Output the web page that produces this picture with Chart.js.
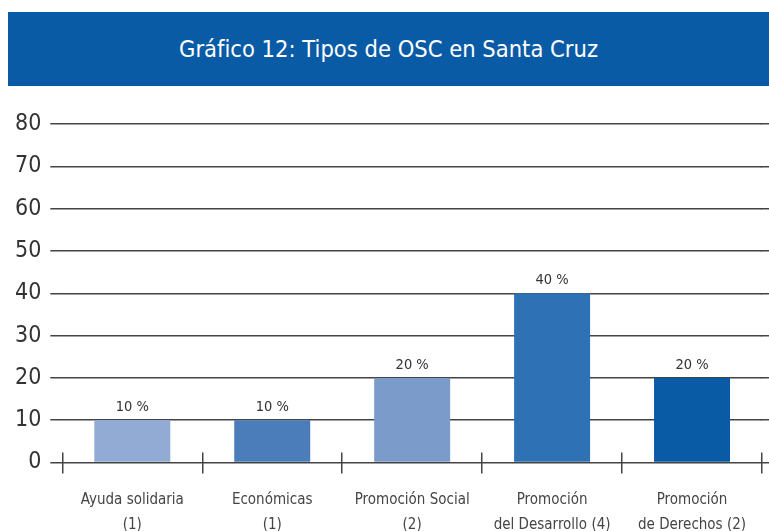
<!DOCTYPE html>
<html lang="es">
<head>
  <meta charset="UTF-8" />
  <title>Tipos de OSC en Santa Cruz</title>
  <script src="https://cdn.jsdelivr.net/npm/chart.js"></script>
  <style>
    html, body { margin: 0; padding: 0; background: #fff; overflow: hidden; }
    #wrap { position: relative; width: 769px; height: 554px; }
    #banner {
      position: absolute; left: 8px; top: 12px; width: 761px; height: 74px;
      background: #0a5ba6; color: #fff;
      font-family: 'Liberation Sans Narrow', 'DejaVu Sans Condensed', sans-serif;
      font-size: 23.5px; line-height: 74px; text-align: center;
    }
    #chart { position: absolute; left: 0; top: 0; }
  </style>
</head>
<body>
  <div id="wrap">
    <canvas id="chart" width="769" height="554"></canvas>
    <div id="banner">Gráfico 12: Tipos de OSC en Santa Cruz</div>
  </div>

  <script>
    const categories = [
      ['Ayuda solidaria', '(1)'],
      ['Económicas', '(1)'],
      ['Promoción Social', '(2)'],
      ['Promoción', 'del Desarrollo (4)'],
      ['Promoción', 'de Derechos (2)']
    ];
    const values = [10, 10, 20, 40, 20];
    const valueLabels = ['10 %', '10 %', '20 %', '40 %', '20 %'];
    const yTicks = [0, 10, 20, 30, 40, 50, 60, 70, 80];
    const barColors = ['#92abd5', '#4a7dba', '#7b9bcb', '#2e71b5', '#0a5ba5'];

    const font = "'Liberation Sans Narrow', 'DejaVu Sans Condensed', sans-serif";
    const lw = 1.5;
    // same pixel snapping Chart.js uses for grid lines
    const snap = p => Math.round(p - lw / 2) + lw / 2;

    // value labels above bars, ticks crossing the axis, grid lines to the right edge
    const extras = {
      id: 'extras',
      afterDraw(chart) {
        const ctx = chart.ctx;
        const area = chart.chartArea;
        const y = chart.scales.y;
        ctx.save();
        ctx.strokeStyle = '#444';
        ctx.lineWidth = lw;
        yTicks.forEach(v => {
          const py = snap(y.getPixelForValue(v));
          ctx.beginPath();
          ctx.moveTo(area.right - 1, py);
          ctx.lineTo(chart.width, py);
          ctx.stroke();
        });
        const n = categories.length;
        for (let i = 0; i <= n; i++) {
          const px = snap(area.left + i * (area.right - area.left) / n);
          ctx.beginPath();
          ctx.moveTo(px, area.bottom - 10);
          ctx.lineTo(px, area.bottom);
          ctx.stroke();
        }
        ctx.fillStyle = '#333';
        ctx.font = '14.5px ' + font;
        ctx.textAlign = 'center';
        ctx.textBaseline = 'alphabetic';
        chart.getDatasetMeta(0).data.forEach((bar, i) => {
          ctx.fillText(valueLabels[i], bar.x, bar.y - 9);
        });
        ctx.restore();
      }
    };

    new Chart(document.getElementById('chart'), {
      type: 'bar',
      data: {
        labels: categories,
        datasets: [{
          data: values,
          backgroundColor: barColors,
          categoryPercentage: 1,
          barPercentage: 0.543
        }]
      },
      options: {
        responsive: false,
        animation: false,
        layout: { padding: { left: 6, right: 7, top: 124, bottom: 3 } },
        plugins: { legend: { display: false }, tooltip: { enabled: false } },
        scales: {
          y: {
            min: 0,
            max: 80,
            afterBuildTicks: axis => { axis.ticks = yTicks.map(v => ({ value: v })); },
            border: { display: false },
            grid: { color: '#444', lineWidth: lw, tickLength: 12 },
            ticks: { color: '#333', padding: 9, font: { family: font, size: 23 } }
          },
          x: {
            border: { display: false },
            grid: { color: '#444', lineWidth: lw, drawOnChartArea: false, tickLength: 11, offset: true },
            ticks: { color: '#444', padding: 14, maxRotation: 0, autoSkip: false, font: { family: font, size: 15, lineHeight: 1.65 } }
          }
        }
      },
      plugins: [extras]
    });
  </script>
</body>
</html>
